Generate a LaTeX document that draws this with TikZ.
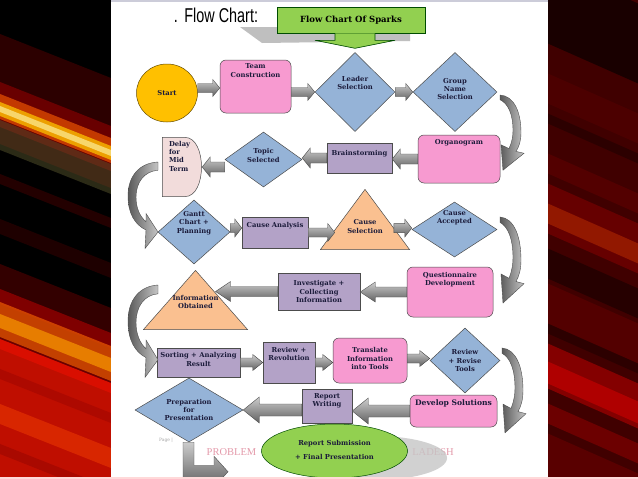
\documentclass[tikz,border=0pt]{standalone}
\usepackage{fontspec}
\setmainfont{DejaVu Serif}
\newfontfamily\headfont{Liberation Sans}
\newfontfamily\footfont{Liberation Serif}
\usepackage{graphicx}
\usepackage{xcolor}
\usetikzlibrary{shapes.geometric}
\usetikzlibrary{positioning}
\usetikzlibrary{calc}

\definecolor{pinkbox}{HTML}{F79AD0}
\definecolor{bluebox}{HTML}{95B3D7}
\definecolor{purplebox}{HTML}{B3A2C7}
\definecolor{peachbox}{HTML}{FAC090}
\definecolor{delayfill}{HTML}{F2DCDB}
\definecolor{sunbox}{HTML}{FFC000}
\definecolor{greenbox}{HTML}{92D050}
\definecolor{textnavy}{HTML}{1B1B3A}
\definecolor{footpink}{HTML}{E49AAA}

\tikzset{
  txt/.style={font=\bfseries\fontsize{6.8}{8.4}\selectfont, text=textnavy, align=center, inner sep=0pt},
  shapebase/.style={draw=black!70, line width=0.5pt, inner sep=0pt},
  pinkrect/.style={shapebase, rectangle, rounded corners=6pt, fill=pinkbox},
  purplerect/.style={shapebase, rectangle, fill=purplebox},
  bluediam/.style={shapebase, diamond, fill=bluebox},
  startcirc/.style={shapebase, ellipse, fill=sunbox, draw=black!60!sunbox},
  greenell/.style={shapebase, ellipse, fill=greenbox, draw=green!30!black},
  delaybox/.style={inner sep=0pt, path picture={
    \filldraw[fill=delayfill, draw=black!70, line width=0.5pt]
      ([xshift=0.4pt,yshift=-0.4pt]path picture bounding box.north west)
      -- ([xshift=-17pt,yshift=-0.4pt]path picture bounding box.north east)
      .. controls ([xshift=5pt,yshift=-0.4pt]path picture bounding box.north east)
      and ([xshift=5pt,yshift=0.4pt]path picture bounding box.south east)
      .. ([xshift=-17pt,yshift=0.4pt]path picture bounding box.south east)
      -- ([xshift=0.4pt,yshift=0.4pt]path picture bounding box.south west) -- cycle;}},
  tri/.style={inner sep=0pt, path picture={
    \filldraw[fill=peachbox, draw=black!70, line width=0.5pt]
      ([yshift=-0.4pt]path picture bounding box.north)
      -- ([xshift=-0.4pt,yshift=0.4pt]path picture bounding box.south east)
      -- ([xshift=0.4pt,yshift=0.4pt]path picture bounding box.south west) -- cycle;}},
  blockarrow/.style={draw=black!70, line width=0.4pt, top color=gray!40, bottom color=gray!75!black},
  bendarrow/.style={draw=black!70, line width=0.4pt, left color=gray!70!black, right color=gray!45},
  titlebox/.style={draw=green!30!black, line width=0.6pt, fill=greenbox, inner sep=0pt,
    font=\bfseries\fontsize{8.5}{10}\selectfont},
  foot/.style={font=\footfont\fontsize{10.5}{12}\selectfont, text=footpink, inner sep=0pt}
}

\begin{document}
\begin{tikzpicture}[x=1pt, y=-1pt]
    \useasboundingbox (0,0) rectangle (638,479);
    \def\bw{4.5pt}
    \def\hw{8.5pt}
    \def\hl{7pt}
    \def\barrow#1#2{\path[blockarrow] let \p1=(#1), \p2=(#2), \n1={ifthenelse(\x2>\x1,1,-1)} in
      (\x1,{\y1+\bw}) -- ({\x2-\n1*\hl},{\y1+\bw}) -- ({\x2-\n1*\hl},{\y1+\hw}) -- (\x2,\y1)
      -- ({\x2-\n1*\hl},{\y1-\hw}) -- ({\x2-\n1*\hl},{\y1-\bw}) -- (\x1,{\y1-\bw}) -- cycle;}
    \def\rbend#1#2#3{\begin{scope}[shift={(#1,#2)}, yscale=#3]
      \draw[bendarrow] (0,0) .. controls (14,1) and (21,18) .. (21,40)
        .. controls (21,49) and (19,55) .. (16,60) -- (24,62) -- (3,80) -- (1,53) -- (9,57)
        .. controls (12,50) and (13,44) .. (13,38) .. controls (13,20) and (8,9) .. (0,5) -- cycle;
      \end{scope}}
    \def\lbend#1#2#3{\begin{scope}[shift={(#1,#2)}, yscale=#3]
      \draw[bendarrow] (31,0) .. controls (12,1) and (1,14) .. (1,33)
        .. controls (1,50) and (8,61) .. (19,66) -- (18,84) -- (31,68) -- (19,50) -- (19,58)
        .. controls (13,53) and (9,45) .. (9,34) .. controls (9,20) and (17,9) .. (31,8) -- cycle;
      \end{scope}}

    % flames behind the page
    \fill[black] (0,0) rectangle (638,479);
    \begin{scope}
      \clip (0,0) rectangle (111,479);
      \foreach \ya/\th/\col/\op in {30/110/red!35!black/0.5, 78/45/red!65!black/0.5,
          90/25/orange!75!red/0.6, 98/14/orange!40!yellow/0.7, 102/6/yellow!30!white/0.6,
          116/30/olive!50!black/0.5, 170/10/red!35!black/0.4, 215/15/red!30!black/0.4,
          260/40/red!40!black/0.5, 285/60/red!70!black/0.6, 298/35/orange!85!red/0.6,
          310/14/orange!70!yellow/0.6, 335/150/red!85!orange/0.75, 365/10/red!55!black/0.35,
          400/20/orange!60!red/0.4, 440/10/red!50!black/0.35} {
        \fill[fill=\col, opacity=\op] (-10,\ya) -- (121,\ya+52) -- (121,\ya+52+\th) -- (-10,\ya+\th) -- cycle;
      }
    \end{scope}
    \begin{scope}
      \clip (548,0) rectangle (638,479);
      \fill[red!25!black] (548,0) rectangle (638,479);
      \foreach \ya/\th/\col/\op in {-40/80/black/0.6, 70/30/red!35!black/0.5, 110/10/black/0.3,
          150/20/red!40!black/0.5, 180/50/red!50!black/0.6, 200/20/red!50!orange!75!black/0.5,
          245/30/black/0.4, 280/40/red!40!black/0.5, 320/10/black/0.3, 340/45/red!70!black/0.6,
          358/22/red!90!black/0.45, 400/20/red!60!black/0.5, 430/60/red!45!black/0.5} {
        \fill[fill=\col, opacity=\op] (540,\ya) -- (646,\ya+47) -- (646,\ya+47+\th) -- (540,\ya+\th) -- cycle;
      }
    \end{scope}

    \begin{scope}
    \clip (111,0) rectangle (548,476.5);
    \fill[white] (111,0) rectangle (548,476.5);
    \fill[blue!15!gray!35] (111,0) rectangle (548,1.5);

    \node[anchor=base] (head) at (216,23)
      {\scalebox{0.72}[1]{\headfont\fontsize{20}{22}\selectfont .\hspace{0.45em}Flow Chart:}};
    \fill[gray!50] (240,27) -- (410,27) -- (410,41) -- (262,43) -- cycle;
    \node[titlebox, minimum width=148pt, minimum height=26pt] (title) at (351,20) {Flow Chart Of Sparks};
    \draw[titlebox] ([xshift=-16pt]title.south) -- ++(0,7) -- ++(-20,0) -- ++(40,8) -- ++(40,-8)
      -- ++(-20,0) -- ++(0,-7);

    \node[foot] (probl) at (231.5,452) {PROBLEM};
    \node[foot] (ladesh) at (433,452) {LADESH};
    \node[font=\fontsize{4.5}{5}\selectfont, text=gray!70, inner sep=0pt] (pg) at (166,440) {Page |};
    \fill[gray!45, opacity=0.8] (375,458) ellipse (72 and 22);

    % the boxes
    \node[startcirc, minimum width=61pt, minimum height=58pt, label={[txt]center:Start}] (start) at (167,93) {};
    \node[pinkrect, minimum width=71pt, minimum height=53pt,
      label={[txt, anchor=north, yshift=-4pt]north:Team\\Construction}] (team) at (255.5,86.5) {};
    \node[bluediam, minimum width=80pt, minimum height=79pt,
      label={[txt, yshift=9pt]center:Leader\\Selection}] (leader) at (355,92) {};
    \node[bluediam, minimum width=84pt, minimum height=79pt,
      label={[txt, yshift=3pt]center:Group\\Name\\Selection}] (group) at (455,92) {};

    \node[pinkrect, minimum width=82pt, minimum height=48pt,
      label={[txt, anchor=north, yshift=-5pt]north:Organogram}] (organ) at (459,159) {};
    \node[purplerect, minimum width=65pt, minimum height=30pt,
      label={[txt, anchor=north, yshift=-7pt]north:Brainstorming}] (brain) at (359.5,158) {};
    \node[bluediam, minimum width=77pt, minimum height=55pt,
      label={[txt, yshift=4pt]center:Topic\\Selected}] (topic) at (263.5,159.5) {};
    \node[delaybox, minimum width=40pt, minimum height=60pt,
      label={[txt, align=left, anchor=north west, xshift=7pt, yshift=-4pt]north west:Delay\\for\\Mid\\Term}] (delay) at (182,167) {};

    \node[bluediam, minimum width=72pt, minimum height=64pt,
      label={[txt, yshift=9pt]center:Gantt\\Chart +\\Planning}] (gantt) at (194,232) {};
    \node[purplerect, minimum width=66pt, minimum height=31pt,
      label={[txt, anchor=north, yshift=-5pt]north:Cause Analysis}] (canal) at (275,232.5) {};
    \node[tri, minimum width=90pt, minimum height=61pt,
      label={[txt, yshift=-7pt]center:Cause\\Selection}] (csel) at (365,219.5) {};
    \node[bluediam, minimum width=85pt, minimum height=55pt,
      label={[txt, yshift=12pt]center:Cause\\Accepted}] (cacc) at (454.5,229.5) {};

    \node[pinkrect, minimum width=86pt, minimum height=50pt,
      label={[txt, anchor=north, yshift=-5pt]north:Questionnaire\\Development}] (quest) at (450,292) {};
    \node[purplerect, minimum width=82pt, minimum height=37pt,
      label={[txt]center:Investigate +\\Collecting\\Information}] (invest) at (319,291.5) {};
    \node[tri, minimum width=105pt, minimum height=60pt,
      label={[txt, yshift=-2pt]center:Information\\Obtained}] (iobt) at (195.5,300) {};

    \node[purplerect, minimum width=83pt, minimum height=29pt,
      label={[txt, yshift=3pt]center:Sorting + Analyzing\\Result}] (sort) at (198.5,362.5) {};
    \node[purplerect, minimum width=52pt, minimum height=41pt,
      label={[txt, anchor=north, yshift=-5pt]north:Review +\\Revolution}] (rrev) at (289,362.5) {};
    \node[pinkrect, minimum width=74pt, minimum height=45pt,
      label={[txt, yshift=2pt]center:Translate\\Information\\into Tools}] (trans) at (370,360.5) {};
    \node[bluediam, minimum width=70pt, minimum height=65pt,
      label={[txt]center:Review\\+ Revise\\Tools}] (rrt) at (465,360.5) {};

    \node[pinkrect, minimum width=87pt, minimum height=32pt,
      label={[txt, font=\bfseries\fontsize{7.6}{9}\selectfont, anchor=north, yshift=-5pt]north:Develop Solutions}] (devs) at (453.5,411) {};
    \node[purplerect, minimum width=50pt, minimum height=34pt,
      label={[txt, yshift=5pt]center:Report\\Writing}] (rwrite) at (327,406) {};
    \node[bluediam, minimum width=108pt, minimum height=64pt,
      label={[txt]center:Preparation\\for\\Presentation}] (prep) at (189,410) {};
    \node[greenell, minimum width=146pt, minimum height=54pt,
      label={[txt, yshift=1pt]center:Report Submission\\[5pt]+ Final Presentation}] (submit) at (334.5,451) {};

    % straight block arrows
    \barrow{$(start.east)+(0,-5)$}{team.west}
    \barrow{team.east |- leader.west}{leader.west}
    \barrow{leader.east}{group.west}
    \def\bw{5pt}\def\hw{10pt}\def\hl{8pt}
    \barrow{organ.west}{brain.east}
    \barrow{brain.west}{topic.east}
    \barrow{topic.west |- delay.east}{delay.east}
    \def\bw{4.5pt}\def\hw{9pt}\def\hl{7pt}
    \barrow{$(gantt.east)+(0,-4)$}{canal.west}
    \barrow{canal.east}{$(csel.south west)!0.33!(csel.north)$}
    \barrow{$(csel.south east)!0.36!(csel.north)$}{cacc.west}
    \def\bw{5pt}\def\hw{10pt}\def\hl{15pt}
    \barrow{quest.west}{invest.east}
    \barrow{invest.west}{$(iobt.south east)!0.62!(iobt.north)$}
    \def\bw{4.5pt}\def\hw{8pt}\def\hl{10pt}
    \barrow{sort.east}{rrev.west}
    \barrow{rrev.east}{trans.west}
    \barrow{$(trans.east)+(0,-2)$}{rrt.west}
    \def\bw{6pt}\def\hw{13pt}\def\hl{16pt}
    \barrow{devs.west}{rwrite.east}
    \barrow{rwrite.west |- prep.east}{prep.east}
    \path[blockarrow] let \p1=(prep.south) in
      ({\x1-6pt},\y1) -- ({\x1+5pt},\y1) -- ({\x1+5pt},{\y1-23pt}) -- ({\x1+25pt},{\y1-23pt})
      -- ({\x1+25pt},{\y1-14pt}) -- ({\x1+39pt},{\y1-29.5pt}) -- ({\x1+25pt},{\y1-45pt})
      -- ({\x1+25pt},{\y1-36pt}) -- ({\x1-6pt},{\y1-36pt}) -- cycle;

    % bends between the rows
    \rbend{500}{95}{0.94}
    \rbend{500}{217}{1.075}
    \rbend{502}{348}{1.06}
    \lbend{127}{162}{1.03}
    \lbend{127}{285}{1.1}
    \end{scope}

    \fill[red!15!white] (0,476.5) rectangle (638,479);
\end{tikzpicture}
\end{document}
